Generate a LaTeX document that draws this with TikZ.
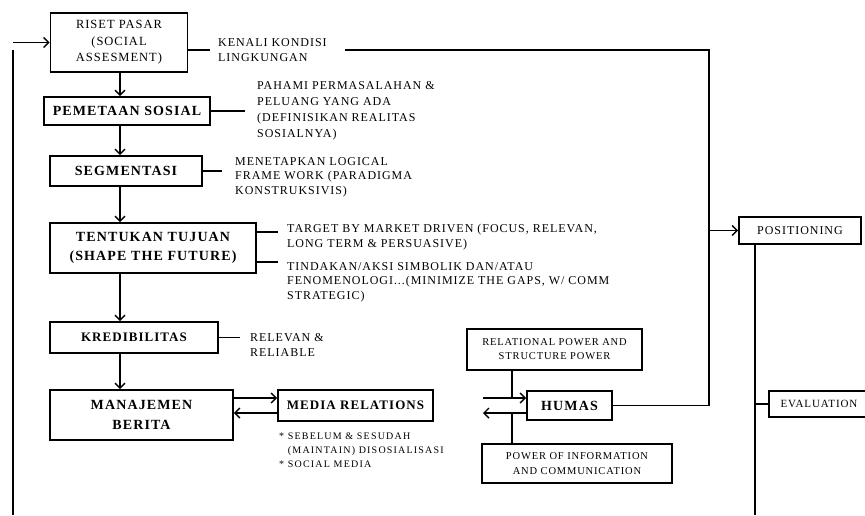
\documentclass[tikz,border=0pt]{standalone}
\usepackage{fontspec}
\setmainfont{Liberation Serif}
\newfontfamily\diagfont[LetterSpace=8]{Liberation Serif}
\usetikzlibrary{arrows.meta}
\tikzset{
  stage/.style={draw, line width=1.8pt, align=center, inner sep=0pt, font=\diagfont\bfseries\fontsize{14}{19}\selectfont},
  tag/.style={draw, line width=1.8pt, align=center, inner sep=0pt, font=\diagfont\fontsize{10.5}{14}\selectfont},
  note/.style={align=left, inner sep=0pt, font=\diagfont\fontsize{12}{14.5}\selectfont},
  link/.style={line width=1.8pt},
}
\begin{document}
\begin{tikzpicture}[x=1pt, y=-1pt, >={Straight Barb[length=5pt,width=10pt,line width=1.4pt]}]
    \useasboundingbox (0,0) rectangle (865,515);
    % main column
    \node[stage, font=\diagfont\fontsize{12.5}{16.5}\selectfont, minimum width=137pt, minimum height=59pt] (riset) at (119,42.5) {RISET PASAR\\(SOCIAL\\ASSESMENT)};
    \node[stage, minimum width=166pt, minimum height=28pt] (pemetaan) at (127,111) {PEMETAAN SOSIAL};
    \node[stage, minimum width=152pt, minimum height=30pt] (segmentasi) at (126,171) {SEGMENTASI};
    \node[stage, minimum width=206pt, minimum height=50pt] (tujuan) at (153,248) {TENTUKAN TUJUAN\\(SHAPE THE FUTURE)};
    \node[stage, font=\diagfont\bfseries\fontsize{13}{18}\selectfont, minimum width=168pt, minimum height=31pt] (kredibilitas) at (134,337.5) {KREDIBILITAS};
    \node[stage, font=\diagfont\bfseries\fontsize{14}{20}\selectfont, minimum width=183pt, minimum height=50pt] (manajemen) at (141.5,415) {MANAJEMEN\\BERITA};
    \node[stage, font=\diagfont\bfseries\fontsize{13}{18}\selectfont, minimum width=155pt, minimum height=31pt] (media) at (355.5,405.5) {MEDIA RELATIONS};
    \node[stage, minimum width=85pt, minimum height=29pt] (humas) at (569.5,405.5) {HUMAS};
    \node[tag, minimum width=175pt, minimum height=41pt] (relational) at (554.5,349.5) {RELATIONAL POWER AND\\STRUCTURE POWER};
    \node[tag, font=\diagfont\fontsize{10.5}{15}\selectfont, minimum width=190pt, minimum height=39pt] (powerinfo) at (577,463.5) {POWER OF INFORMATION\\AND COMMUNICATION};
    \node[tag, font=\diagfont\fontsize{12}{14}\selectfont, minimum width=122pt, minimum height=27pt] (positioning) at (800,230.5) {POSITIONING};
    \node[tag, font=\diagfont\fontsize{11}{14}\selectfont, minimum width=100pt, minimum height=26pt] (evaluation) at (819,404) {EVALUATION};

    % notes
    \node[note, anchor=west] (kenali) at (218,50) {KENALI KONDISI\\LINGKUNGAN};
    \node[note, font=\diagfont\fontsize{12}{16}\selectfont, anchor=west] (pahami) at (257,111) {PAHAMI PERMASALAHAN \&\\PELUANG YANG ADA\\(DEFINISIKAN REALITAS\\SOSIALNYA)};
    \node[note, anchor=west] (menetapkan) at (235,177) {MENETAPKAN LOGICAL\\FRAME WORK (PARADIGMA\\KONSTRUKSIVIS)};
    \node[note, anchor=west] (target) at (287,237) {TARGET BY MARKET DRIVEN (FOCUS, RELEVAN,\\LONG TERM \& PERSUASIVE)};
    \node[note, anchor=west] (tindakan) at (287,282) {TINDAKAN/AKSI SIMBOLIK DAN/ATAU\\FENOMENOLOGI...(MINIMIZE THE GAPS, W/ COMM\\STRATEGIC)};
    \node[note, font=\diagfont\fontsize{12}{15}\selectfont, anchor=west] (relevan) at (250,345) {RELEVAN \&\\RELIABLE};
    \node[note, font=\diagfont\addfontfeatures{LetterSpace=12}\fontsize{10}{14}\selectfont, anchor=west] (sebelum) at (279,450) {* SEBELUM \& SESUDAH\\\hphantom{* }(MAINTAIN) DISOSIALISASI\\* SOCIAL MEDIA};

    \coordinate (pEnd) at (245,111);
    \coordinate (sEnd) at (222,171);
    \coordinate (tA) at (278,232);
    \coordinate (tB) at (278,262);
    \coordinate (kEnd) at (240,337.5);
    \coordinate (kgap) at (345,50);
    \coordinate (corner) at (709,50);
    \coordinate (fbtop) at (13,50);
    \coordinate (fbbot) at (13,515);
    \coordinate (rbot) at (755,515);
    \coordinate (hleft) at (483,405.5);
    \coordinate (hjoin) at (512,405.5);

    % flow
    \draw[link,->] (riset.south -| 120,0) -- (pemetaan.north -| 120,0);
    \draw[link,->] (pemetaan.south -| 120,0) -- (segmentasi.north -| 120,0);
    \draw[link,->] (segmentasi.south -| 120,0) -- (tujuan.north -| 120,0);
    \draw[link,->] (tujuan.south -| 120,0) -- (kredibilitas.north -| 120,0);
    \draw[link,->] (kredibilitas.south -| 120,0) -- (manajemen.north -| 120,0);

    \draw[link] (riset.east |- kenali.west) -- ([xshift=-8pt]kenali.west);
    \draw[link] (pemetaan.east) -- (pEnd);
    \draw[link] (segmentasi.east) -- (sEnd);
    \draw[link] (tA -| tujuan.east) -- (tA);
    \draw[link] (tB -| tujuan.east) -- (tB);
    \draw[link] (kredibilitas.east) -- (kEnd);

    \draw[link,->] ([yshift=7.5pt]media.west -| manajemen.east) -- ([yshift=7.5pt]media.west);
    \draw[link,<-] ([yshift=-7.5pt]media.west -| manajemen.east) -- ([yshift=-7.5pt]media.west);
    \draw[link,->] ([yshift=7.5pt]hleft) -- ([yshift=7.5pt]humas.west);
    \draw[link,<-] ([yshift=-7.5pt]hleft) -- ([yshift=-7.5pt]humas.west);
    \draw[link] (relational.south -| hjoin) -- ([yshift=7.5pt]hjoin);
    \draw[link] ([yshift=-7.5pt]hjoin) -- (powerinfo.north -| hjoin);

    \draw[link] (kgap) -- (corner) -- (corner |- humas.east) -- (humas.east);
    \draw[link,->] (corner |- positioning.west) -- (positioning.west);
    \draw[link] (positioning.south -| rbot) -- (rbot);
    \draw[link] (evaluation.west -| rbot) -- (evaluation.west);

    \draw[link] (fbbot) -- (fbtop);
    \draw[link,->] (riset.west -| fbtop) -- (riset.west);
\end{tikzpicture}
\end{document}
